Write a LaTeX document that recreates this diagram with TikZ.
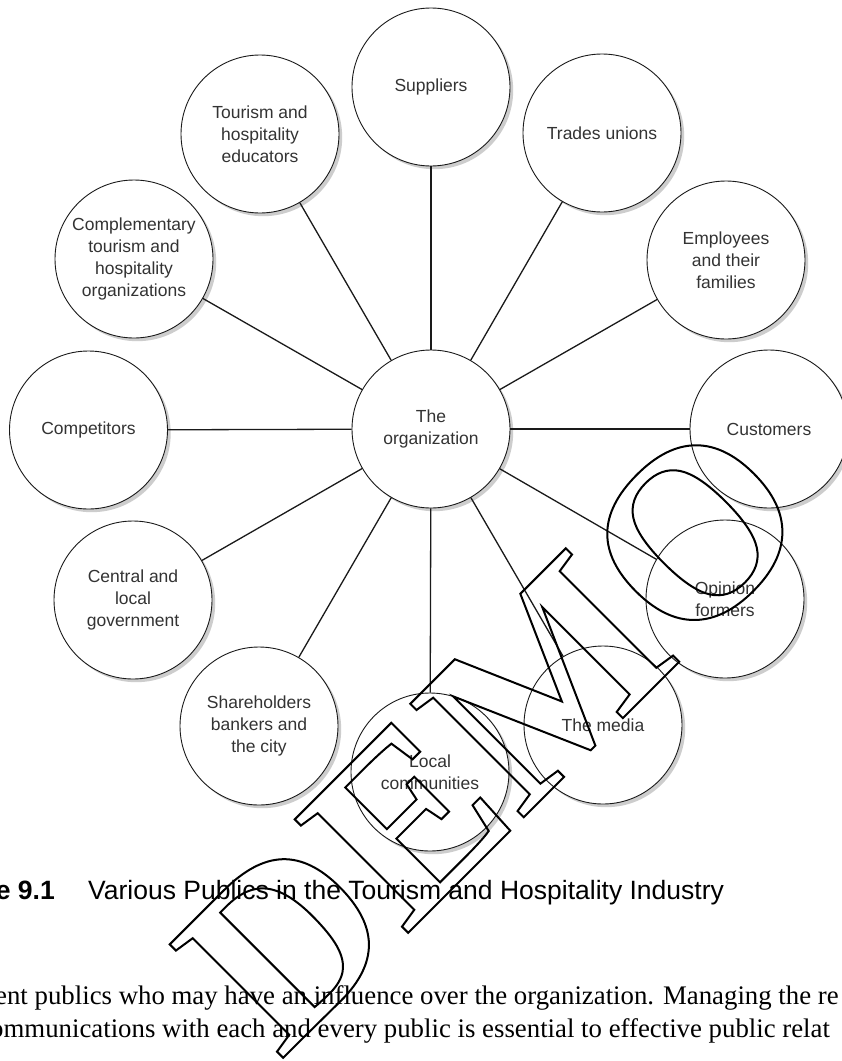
\documentclass[tikz,border=0pt]{standalone}
\usepackage{fontspec}
\usetikzlibrary{shadows}
\newfontfamily\sansf{Liberation Sans}
\newfontfamily\seriff{Liberation Serif}
\newcommand\strokedtext[1]{\special{pdf:literal direct 1 Tr 2 w}#1\special{pdf:literal direct 0 Tr}}
\definecolor{labelgray}{HTML}{333333}
\definecolor{linegray}{HTML}{1A1A1A}
\definecolor{shadowgray}{HTML}{CDCDCD}
\tikzset{
  public/.style={circle, draw=linegray, line width=0.9pt, fill=white,
    minimum size=158pt, inner sep=0pt, align=center, text=labelgray,
    font=\sansf\fontsize{17.5}{21.8}\selectfont,
    drop shadow={shadow xshift=3.2pt, shadow yshift=-3.2pt, opacity=1, fill=shadowgray}},
  link/.style={draw=linegray, line width=1.3pt},
  bodytext/.style={anchor=base west, inner sep=0pt, font=\seriff\fontsize{26.8}{34}\selectfont},
}
\begin{document}
\begin{tikzpicture}[x=1pt,y=-1pt]
\useasboundingbox (0,0) rectangle (842,1061);
\clip (0,0) rectangle (842,1061);
\fill[white] (0,0) rectangle (842,1061);
% nodes
\node[public] (org) at (431,429) {The\\organization};
\node[public] (sup) at (431,87) {Suppliers};
\node[public] (edu) at (260,134) {Tourism and\\hospitality\\educators};
\node[public] (tra) at (602,133) {Trades unions};
\node[public] (com) at (134,259) {Complementary\\tourism and\\hospitality\\organizations};
\node[public] (emp) at (726,260) {Employees\\and their\\families};
\node[public] (cpt) at (88.5,430) {Competitors};
\node[public] (cus) at (769,429) {Customers};
\node[public] (gov) at (133,600) {Central and\\local\\government};
\node[public] (opi) at (725,599) {Opinion\\formers};
\node[public] (sha) at (259,726) {Shareholders\\bankers and\\the city};
\node[public] (med) at (603,725) {The media};
\node[public] (loc) at (430,772) {Local\\communities};
% connectors
\foreach \n in {sup,edu,tra,com,emp,cpt,cus,gov,opi,sha,med,loc}
  \draw[link] (org) -- (\n);
% caption
\node[anchor=base east, inner sep=0pt, font=\sansf\bfseries\fontsize{26.5}{30}\selectfont] (capnum) at (55,899) {e 9.1};
\node[anchor=base west, inner sep=0pt, font=\sansf\fontsize{26.5}{30}\selectfont] (captext) at (88,899) {Various Publics in the Tourism and Hospitality Industry};
% body text
\node[bodytext] (body1) at (-5,1004) {ent publics who may have an influence over the organization. Managing the re};
\node[bodytext] (body2) at (-10,1037) {ommunications with each and every public is essential to effective public relat};
% watermark
\node[anchor=base west, inner sep=0pt, rotate=45, font=\seriff\bfseries\fontsize{245}{245}\selectfont] (demo) at (280,1061) {\strokedtext{DEMO}};
\end{tikzpicture}
\end{document}
